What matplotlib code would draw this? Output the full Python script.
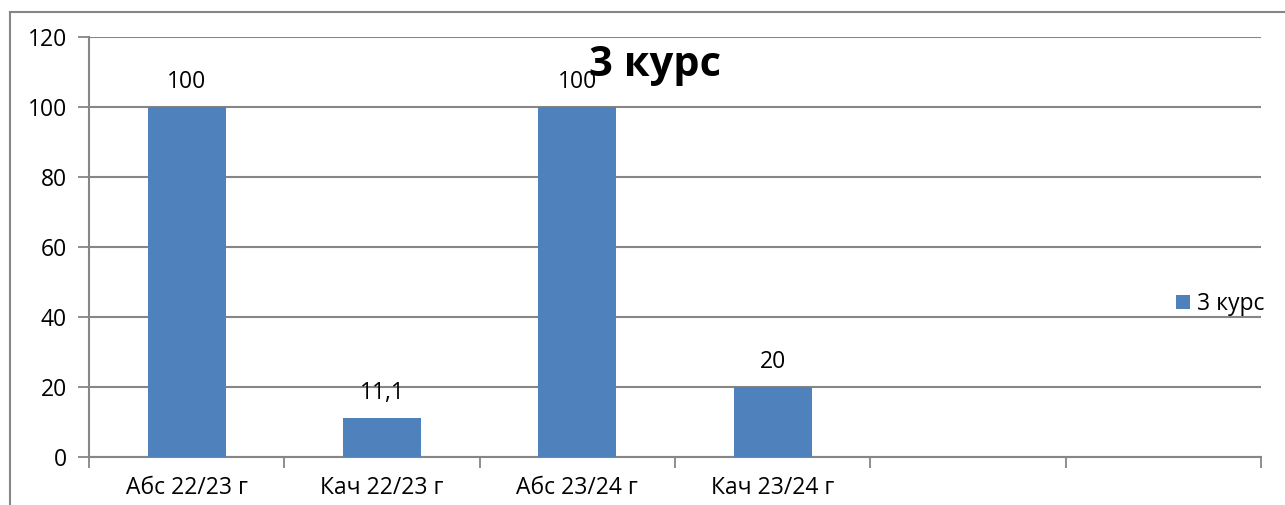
import numpy as np
import matplotlib.pyplot as plt
from matplotlib.lines import Line2D

# данные диаграммы
categories = ["Абс 22/23 г", "Кач 22/23 г", "Абс 23/24 г", "Кач 23/24 г", "", ""]
values = [100, 11.1, 100, 20]
value_labels = ["100", "11,1", "100", "20"]
series_name = "3 курс"
y_ticks = [0, 20, 40, 60, 80, 100, 120]

plt.rcParams['font.family'] = ['Open Sans', 'DejaVu Sans']
bar_color = "#4F81BD"
grid_color = "#868686"
fs = 16.5

fig = plt.figure(figsize=(12.85, 5.05), dpi=100)
W, H = 1285, 505
ax = fig.add_axes([89 / W, 1 - 457 / H, (1261 - 89) / W, (457 - 37) / H])

x = np.arange(len(values))
ax.bar(x, values, width=0.4, color=bar_color, zorder=3, label=series_name)

# подписи значений
for xi, v, s in zip(x, values, value_labels):
    ax.annotate(s, (xi, v), xytext=(0, 13), textcoords="offset pixels",
                ha="center", va="bottom", fontsize=fs, color="black")

ax.set_xlim(-0.5, len(categories) - 0.5)
ax.set_ylim(0, 120)
ax.set_yticks(y_ticks)
ax.tick_params(axis="y", length=8, width=1.3, color=grid_color, labelsize=fs, pad=8)
ax.yaxis.grid(True, color=grid_color, linewidth=1.5, zorder=0)
ax.set_axisbelow(True)

# подписи категорий по центру, штрихи между категориями
ax.set_xticks(np.arange(-0.5, len(categories), 1.0))
ax.set_xticklabels([])
ax.tick_params(axis="x", length=8, width=1.3, color=grid_color)
ax.set_xticks(np.arange(len(categories)), minor=True)
ax.set_xticklabels(categories, minor=True, fontsize=fs)
ax.tick_params(axis="x", which="minor", length=0, pad=14)

for side in ["top", "right"]:
    ax.spines[side].set_visible(False)
for side in ["left", "bottom"]:
    ax.spines[side].set_color(grid_color)
    ax.spines[side].set_linewidth(1.5)

fig.text(655 / W, 1 - 66 / H, series_name, ha="center", va="center",
         fontsize=30, fontweight="bold")

ax.legend(loc="center left", bbox_to_anchor=(1176 / W, 1 - 304 / H),
          bbox_transform=fig.transFigure, frameon=False, fontsize=fs,
          handlelength=0.6, handleheight=0.6, handletextpad=0.3, borderpad=0,
          borderaxespad=0)

# рамка области диаграммы
fig.add_artist(Line2D([10 / W, 10 / W], [0, 1 - 12 / H], color=grid_color,
                      linewidth=1.5, transform=fig.transFigure))
fig.add_artist(Line2D([10 / W, 1], [1 - 12 / H, 1 - 12 / H], color=grid_color,
                      linewidth=1.5, transform=fig.transFigure))

fig.savefig("out.png", dpi=100)
